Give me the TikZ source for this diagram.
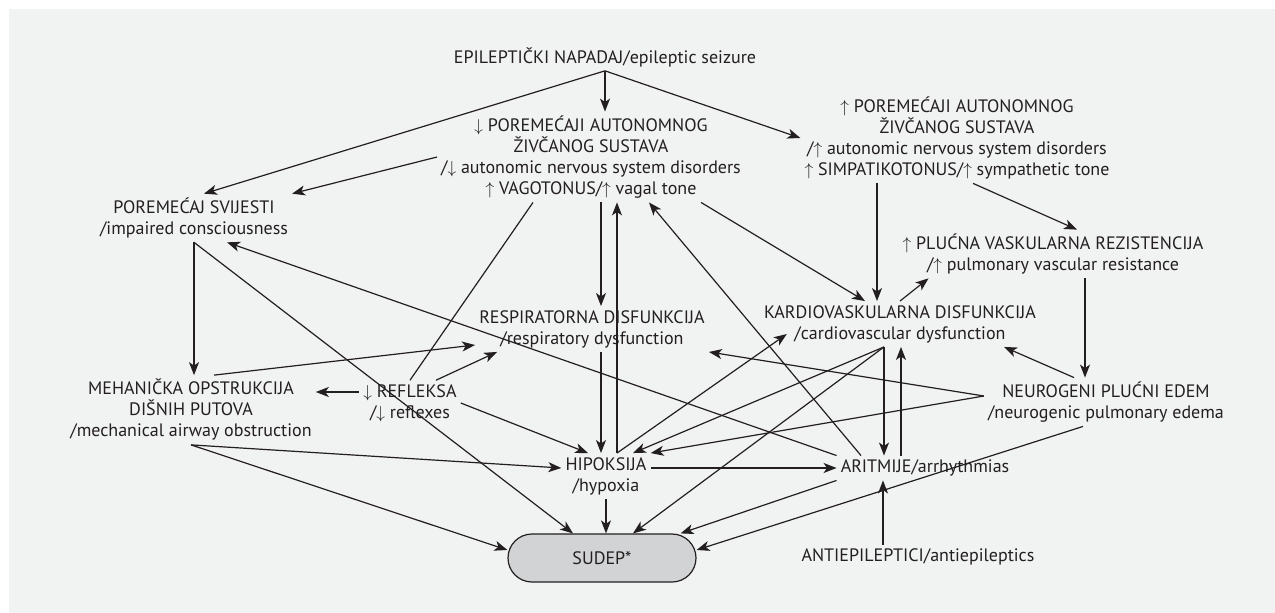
\documentclass[tikz,border=0pt]{standalone}
\usepackage{fontspec}
\setmainfont{PT Sans}
\usepackage{tikz}
\usepackage{xcolor}
\usetikzlibrary{arrows.meta}
\definecolor{ink}{HTML}{231F20}
\definecolor{paper}{HTML}{F1F2F2}
\definecolor{boxgray}{HTML}{D1D3D4}
\tikzset{
    text-node/.style = {align=center, inner sep=4pt, text=ink, font=\fontsize{18pt}{21pt}\selectfont},
    end-box/.style = {draw=ink, fill=boxgray, line width=1.2pt, rectangle, rounded corners=24pt, minimum width=188pt, minimum height=48pt, text=ink, font=\fontsize{18pt}{21pt}\selectfont},
    link/.style = {draw=ink, line width=1.2pt, -{Stealth[length=13pt, width=10pt, inset=3.5pt]}},
    plain-link/.style = {draw=ink, line width=1.2pt},
}

\begin{document}
\begin{tikzpicture}[x=1pt, y=-1pt]
\useasboundingbox (0,0) rectangle (1275,613);
\fill[paper] (9,9) rectangle (1275,613);

\node [text-node] (EPI) at (605,57) {EPILEPTIČKI NAPADAJ/epileptic seizure};
\node [text-node] (DOWN) at (591,157) {$\downarrow$ POREMEĆAJI AUTONOMNOG\\ ŽIVČANOG SUSTAVA\\ /$\downarrow$ autonomic nervous system disorders\\ $\uparrow$ VAGOTONUS/$\uparrow$ vagal tone};
\node [text-node] (UP) at (957,138) {$\uparrow$ POREMEĆAJI AUTONOMNOG\\ ŽIVČANOG SUSTAVA\\ /$\uparrow$ autonomic nervous system disorders\\ $\uparrow$ SIMPATIKOTONUS/$\uparrow$ sympathetic tone};
\node [text-node] (SVIJ) at (194,218) {POREMEĆAJ SVIJESTI\\ /impaired consciousness};
\node [text-node] (PLUC) at (1053,254) {$\uparrow$ PLUĆNA VASKULARNA REZISTENCIJA\\ /$\uparrow$ pulmonary vascular resistance};
\node [text-node] (RESP) at (592,329) {RESPIRATORNA DISFUNKCIJA\\ /respiratory dysfunction};
\node [text-node] (KARD) at (900,324) {KARDIOVASKULARNA DISFUNKCIJA\\ /cardiovascular dysfunction};
\node [text-node] (MEH) at (191,410) {MEHANIČKA OPSTRUKCIJA\\ DIŠNIH PUTOVA\\ /mechanical airway obstruction};
\node [text-node] (REFL) at (410,403) {$\downarrow$ REFLEKSA\\ /$\downarrow$ reflexes};
\node [text-node] (NEURO) at (1106,402) {NEUROGENI PLUĆNI EDEM\\ /neurogenic pulmonary edema};
\node [text-node] (HIPO) at (606,476) {HIPOKSIJA\\ /hypoxia};
\node [text-node] (ARIT) at (925,468) {ARITMIJE/arrhythmias};
\node [end-box] (SUDEP) at (602,558) {SUDEP*};
\node [text-node] (ANTI) at (918,557) {ANTIEPILEPTICI/antiepileptics};

% seizure
\draw[link] (EPI.south) -- ([xshift=10pt]SVIJ.north);
\draw[link] (EPI.south) -- (EPI.south |- DOWN.north);
\draw[link] (EPI.south) -- (UP.west);

% autonomic
\draw[link] (DOWN.west) -- (SVIJ.north east);
\draw[plain-link] ([xshift=-58pt]DOWN.south) -- (REFL.north);
\draw[link] ([xshift=10pt]DOWN.south) -- ([xshift=9pt]RESP.north);
\draw[link] ([xshift=110pt]DOWN.south) -- ([xshift=-35pt]KARD.north);
\draw[link] ([xshift=11pt]HIPO.north) -- ([xshift=26pt]DOWN.south);
\draw[link] ([xshift=-64pt]ARIT.north) -- ([xshift=58pt]DOWN.south);
\draw[link] ([xshift=-80pt]UP.south) -- ([xshift=-23pt]KARD.north);
\draw[link] ([xshift=16pt]UP.south) -- ([xshift=24pt]PLUC.north);
\draw[link] (KARD.north) -- ([xshift=30pt]PLUC.south west);
\draw[link] ([xshift=32pt]PLUC.south) -- ([xshift=-21pt]NEURO.north);

% consciousness, airway
\draw[link] (SVIJ.south) -- (SVIJ.south |- MEH.north);
\draw[link] (SVIJ.south) -- ([xshift=-29pt]SUDEP.north);
\draw[link] (ARIT.north west) -- ([xshift=33pt]SVIJ.south);
\draw[link] ([xshift=23pt]MEH.north) -- ([yshift=-16pt]RESP.west);
\draw[link] ([xshift=26pt]REFL.north) -- ([xshift=22pt]RESP.south west);
\draw[link] ([yshift=11pt]REFL.west) -- ([yshift=11pt]REFL.west -| MEH.east);
\draw[link] (REFL.east) -- ([xshift=-18pt]HIPO.north);
\draw[link] ([xshift=9pt]RESP.south) -- ([xshift=-5pt]HIPO.north);
\draw[link] (MEH.south) -- ([yshift=8pt]HIPO.west);
\draw[link] (MEH.south) -- ([yshift=8pt]SUDEP.west);

% hypoxia, heart
\draw[link] (HIPO.south) -- (HIPO.south |- SUDEP.north);
\draw[link] ([xshift=11pt]HIPO.north) -- ([xshift=27pt,yshift=-10pt]KARD.west);
\draw[link] ([xshift=-16pt]KARD.south) -- ([xshift=27pt]HIPO.north);
\draw[link] ([xshift=-16pt]KARD.south) -- ([xshift=31pt]SUDEP.north);
\draw[link] ([xshift=-16pt]KARD.south) -- ([xshift=-41pt]ARIT.north);
\draw[link] ([xshift=-24pt]ARIT.north) -- ([xshift=1pt]KARD.south);
\draw[link] ([xshift=-32pt]NEURO.north) -- ([xshift=104pt]KARD.south);
\draw[link] ([yshift=6pt]NEURO.west) -- (RESP.south east);
\draw[link] ([yshift=6pt]NEURO.west) -- (HIPO.north east);
\draw[link] (HIPO.east |- ARIT.west) -- (ARIT.west);
\draw[link] (ARIT.south west) -- ([xshift=-16pt]SUDEP.north east);
\draw[link] ([xshift=-23pt]NEURO.south) -- ([yshift=8pt]SUDEP.east);
\draw[link] ([xshift=-35pt]ANTI.north) -- ([xshift=-42pt]ARIT.south);
\end{tikzpicture}
\end{document}
